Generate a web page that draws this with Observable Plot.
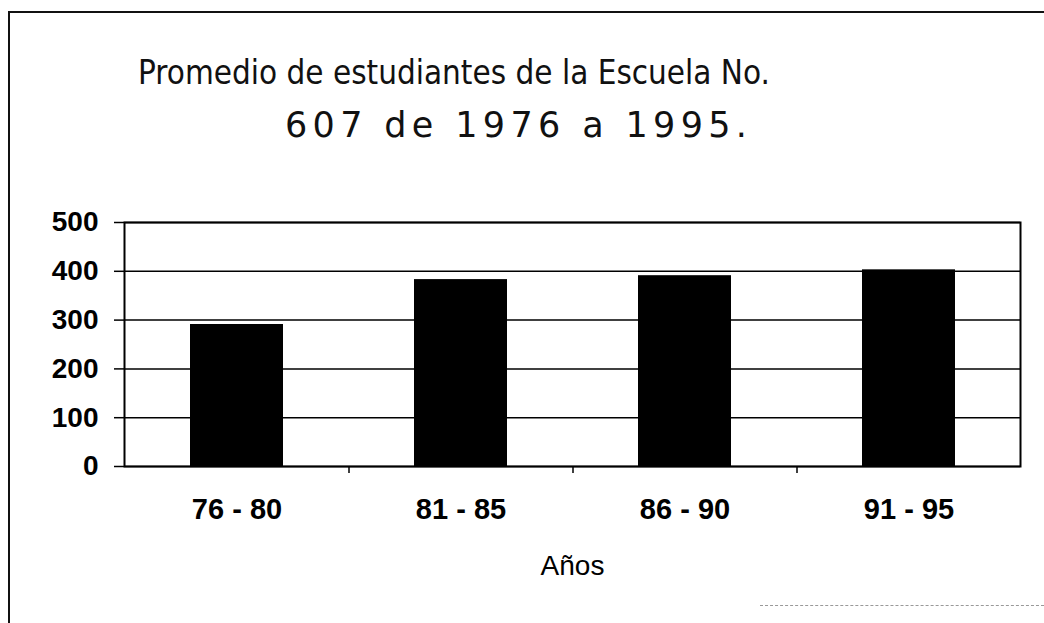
<!DOCTYPE html>
<html><head><meta charset="utf-8">
<script src="https://cdn.jsdelivr.net/npm/d3@7"></script>
<script src="https://cdn.jsdelivr.net/npm/@observablehq/plot@0.6"></script>
<style>
body{margin:0;background:#fff;}
#wrap{position:relative;width:1044px;height:623px;overflow:hidden;background:#fff;}
#border{position:absolute;left:8px;top:11px;width:1100px;height:700px;border-left:2px solid #111;border-top:2px solid #111;z-index:5;pointer-events:none;}
#scanline{position:absolute;left:760px;top:605px;width:284px;height:0;border-top:1px dashed #999;z-index:5;}
#title{position:absolute;left:0;top:0;}
#chart{position:absolute;left:0;top:170px;}
</style></head>
<body><div id="wrap"><svg id="title" width="1044" height="170"></svg><div id="chart"></div><div id="border"></div><div id="scanline"></div></div>
<script>
const categories = ["76 - 80", "81 - 85", "86 - 90", "91 - 95"];
const values = [291, 383, 391, 403];
const yTicks = [0, 100, 200, 300, 400, 500];
const titleLines = ["Promedio de estudiantes de la Escuela No.", "607 de 1976 a 1995."];
const xTitle = "Años";

const data = categories.map((c, i) => ({periodo: c, promedio: values[i]}));

// Title (two lines, fitted to the reference's line widths)
const tsvg = d3.select("#title");
const tl = [
  {t: titleLines[0], x: 138, y: 84, len: 632, adj: "spacingAndGlyphs", fs: 33},
  {t: titleLines[1], x: 285, y: 137, len: 462, adj: "spacing", fs: 35}
];
tsvg.selectAll("text").data(tl).join("text")
  .attr("x", d => d.x).attr("y", d => d.y)
  .attr("textLength", d => d.len).attr("lengthAdjust", d => d.adj)
  .attr("font-family", "DejaVu Sans, sans-serif").attr("font-size", d => d.fs)
  .attr("fill", "#111").text(d => d.t);

const W = 1044, H = 453, mL = 124, mR = 24, mT = 52, mB = 157;
const step = (W - mL - mR) / categories.length;

const chart = Plot.plot({
  width: W, height: H,
  marginTop: mT, marginBottom: mB, marginLeft: mL, marginRight: mR,
  style: {background: "transparent", fontFamily: "Liberation Sans, Arial, sans-serif", color: "#000", overflow: "visible"},
  x: {domain: categories, paddingInner: 0.585, paddingOuter: 0.2925, label: null},
  y: {domain: [0, 500], label: null},
  marks: [
    Plot.ruleY(yTicks, {stroke: "#000", strokeWidth: 1.5}),
    Plot.barY(data, {x: "periodo", y: "promedio", fill: "#000"}),
    Plot.frame({stroke: "#000", strokeWidth: 2}),
    Plot.ruleX(categories.slice(1), {x: d => d, y1: 0, y2: 0, dx: -step / 2, insetBottom: -7, stroke: "#000", strokeWidth: 1.5}),
    Plot.axisY({ticks: yTicks, tickSize: 10, tickPadding: 16, fontSize: 28, fontWeight: "bold", strokeWidth: 1.5, label: null}),
    Plot.axisX({tickSize: 0, tickPadding: 32, fontSize: 29, fontWeight: "bold", label: null}),
    Plot.text([xTitle], {text: d => d, frameAnchor: "bottom", lineAnchor: "bottom", dy: 108, fontSize: 28, fill: "#000"})
  ]
});
document.getElementById("chart").appendChild(chart);
</script>
</body></html>
